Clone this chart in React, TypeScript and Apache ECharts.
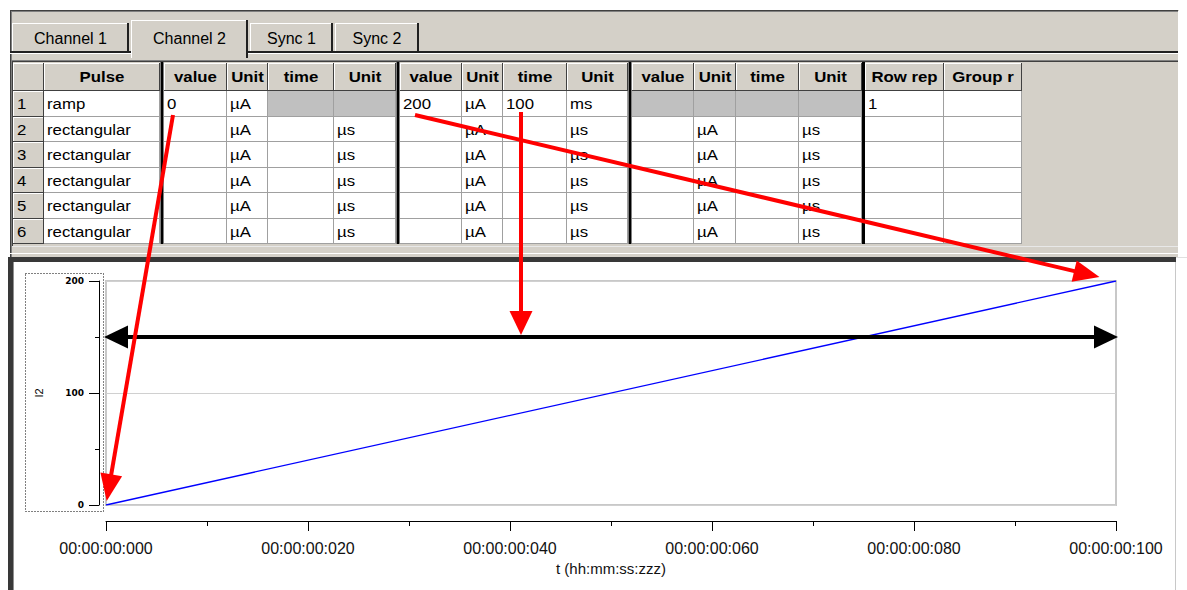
import React, { useEffect, useRef } from 'react';
import * as echarts from 'echarts';

// ---------- data ----------
const tabLabels = ['Channel 1', 'Channel 2', 'Sync 1', 'Sync 2'];
const activeTab = 1;
const columnHeaders = ['', 'Pulse', 'value', 'Unit', 'time', 'Unit', 'value', 'Unit', 'time', 'Unit', 'value', 'Unit', 'time', 'Unit', 'Row rep', 'Group r'];
const rowNumbers = ['1', '2', '3', '4', '5', '6'];
const pulseTypes = ['ramp', 'rectangular', 'rectangular', 'rectangular', 'rectangular', 'rectangular'];
// null = disabled (grey) cell
const rampRowCells: (string | null)[] = ['0', 'µA', null, null, '200', 'µA', '100', 'ms', null, null, null, null, '1', ''];
const rectangularRowCells: (string | null)[] = ['', 'µA', '', 'µs', '', 'µA', '', 'µs', '', 'µA', '', 'µs', '', ''];

const rampTimes = [0, 100]; // ms
const rampCurrents = [0, 200]; // µA
const spanArrowLevel = 150;
const timeTicks = [0, 20, 40, 60, 80, 100];
const timeTickLabels = ['00:00:00:000', '00:00:00:020', '00:00:00:040', '00:00:00:060', '00:00:00:080', '00:00:00:100'];
const currentTickLabels = ['0', '100', '200'];

// ---------- layout ----------
const colWidths = [31, 116, 63, 41, 66, 62, 62, 41, 64, 61, 62, 42, 63, 63, 79, 78];
const sepAfter: Record<number, number> = { 1: 4, 5: 4, 9: 4, 13: 3 };
const tableX = 13;
const headerTop = 63;
const headerBottom = 91;
const rowH = 25.5;
const tabSpans = [[12, 129], [131, 248], [250, 333], [335, 419]];

const GRAY = '#d4d0c8';
const CELL_FONT = '15px "Liberation Sans", Arial, sans-serif';
const TAB_FONT = '16px "Liberation Sans", Arial, sans-serif';
const HEAD_FONT = 'bold 15px "Liberation Sans", Arial, sans-serif';

const option: any = {
  animation: false,
  grid: { left: 106, right: 71, top: 281, bottom: 85, show: true, borderColor: '#c8c8c8', borderWidth: 2, backgroundColor: '#ffffff' },
  xAxis: {
    type: 'value', min: 0, max: 100, interval: 20, offset: 16,
    axisLine: { show: true, onZero: false, lineStyle: { color: '#000', width: 1 } },
    axisTick: { show: true, length: 10, lineStyle: { color: '#000' } },
    minorTick: { show: true, splitNumber: 2, length: 5, lineStyle: { color: '#000' } },
    splitLine: { show: false },
    axisLabel: {
      margin: 19, color: '#111', fontSize: 16, fontFamily: '"Liberation Sans", Arial, sans-serif',
      formatter: (v: number) => timeTickLabels[timeTicks.indexOf(v)] ?? '',
    },
    name: 't (hh:mm:ss:zzz)', nameLocation: 'middle', nameGap: 40,
    nameTextStyle: { color: '#111', fontSize: 15, fontFamily: '"Liberation Sans", Arial, sans-serif' },
  },
  yAxis: {
    type: 'value', min: 0, max: 200, interval: 100, offset: 7,
    axisLine: { show: true, onZero: false, lineStyle: { color: '#000', width: 1 } },
    axisTick: { show: true, length: 10, lineStyle: { color: '#000' } },
    minorTick: { show: true, splitNumber: 2, length: 4, lineStyle: { color: '#000' } },
    splitLine: { show: true, lineStyle: { color: '#d0d0d0', width: 1 } },
    axisLabel: {
      margin: 15, color: '#000', fontSize: 9, fontWeight: 'bold', fontFamily: '"DejaVu Sans", sans-serif',
      formatter: (v: number) => currentTickLabels[v / 100] ?? '',
    },
    name: 'I2', nameLocation: 'middle', nameGap: 55,
    nameTextStyle: { color: '#000', fontSize: 11, fontFamily: '"Liberation Sans", Arial, sans-serif' },
  },
  series: [{
    type: 'line', data: rampTimes.map((t, i) => [t, rampCurrents[i]]),
    symbol: 'none', showSymbol: false, silent: true, z: 3,
    lineStyle: { color: '#0000ff', width: 1.3 },
  }],
};

function buildGraphics(px: (v: number[]) => number[]) {
  const els: any[] = [];
  const ZB = -10;
  const rect = (x: number, y: number, w: number, h: number, fill: string, z = ZB, extra: any = {}) =>
    els.push({ type: 'rect', silent: true, z, shape: { x, y, width: w, height: h }, style: { fill, ...extra } });
  const line = (x1: number, y1: number, x2: number, y2: number, stroke: string, lw = 1, z = ZB) =>
    els.push({ type: 'line', silent: true, z, shape: { x1, y1, x2, y2 }, style: { stroke, lineWidth: lw } });
  const text = (x: number, y: number, str: string, font: string, align = 'left', sx = 1, z = ZB + 2) =>
    els.push({
      type: 'text', silent: true, z, x, y, scaleX: sx,
      style: { text: str, font, fill: '#000', textAlign: align, textVerticalAlign: 'middle', align, verticalAlign: 'middle' },
    });

  // window background + frame
  rect(10, 10, 1169, 248, GRAY);
  line(10, 10.5, 1178, 10.5, '#404040');
  line(10, 11.5, 1178, 11.5, '#808080');
  line(10.5, 10, 10.5, 258, '#404040');
  line(11.5, 11, 11.5, 258, '#808080');
  line(1178.5, 11, 1178.5, 258, '#ffffff');

  // tab strip bottom line
  const act = tabSpans[activeTab];
  line(10, 52, act[0], 52, '#202020', 2, ZB + 1);
  line(act[1], 52, 1178, 52, '#202020', 2, ZB + 1);
  line(10, 53.5, act[0], 53.5, '#ffffff', 1, ZB + 1);
  line(act[1], 53.5, 1178, 53.5, '#ffffff', 1, ZB + 1);

  tabSpans.forEach(([x0, x1], i) => {
    const active = i === activeTab;
    const top = active ? 20 : 23;
    const bottom = active ? 58 : 51;
    rect(x0, top, x1 - x0, bottom - top, GRAY, ZB + 2);
    line(x0, top + 0.5, x1 - 2, top + 0.5, '#ffffff', 1, ZB + 3);
    line(x0 + 0.5, top, x0 + 0.5, bottom, '#ffffff', 1, ZB + 3);
    line(x1 - 1, top, x1 - 1, bottom, '#202020', 2, ZB + 3);
    text((x0 + x1) / 2, 38, tabLabels[i], TAB_FONT, 'center', 1.0, ZB + 4);
  });

  // table frame
  line(12, 60.5, 1178, 60.5, '#808080');
  line(12, 61.5, 1178, 61.5, '#404040');
  line(12.5, 61, 12.5, 246, '#404040');

  // column positions
  const colX0: number[] = [];
  const seps: [number, number][] = [];
  let x = tableX;
  colWidths.forEach((w, i) => {
    colX0.push(x);
    x += w;
    if (sepAfter[i]) { seps.push([x, sepAfter[i]]); x += sepAfter[i]; }
  });
  const rowTops = rowNumbers.map((_, r) => Math.round(headerBottom + r * rowH));
  const tableBottom = Math.round(headerBottom + rowNumbers.length * rowH);

  // header row
  colWidths.forEach((w, i) => {
    const x0 = colX0[i];
    rect(x0, headerTop, w, headerBottom - headerTop, GRAY, ZB + 2);
    line(x0, headerTop + 0.5, x0 + w, headerTop + 0.5, '#ffffff', 1, ZB + 3);
    line(x0 + 0.5, headerTop, x0 + 0.5, headerBottom, '#ffffff', 1, ZB + 3);
    line(x0 + w - 0.5, headerTop, x0 + w - 0.5, headerBottom, '#404040', 1, ZB + 3);
    line(x0, headerBottom - 0.5, x0 + w, headerBottom - 0.5, '#404040', 1, ZB + 3);
    if (columnHeaders[i]) text(x0 + w / 2, (headerTop + headerBottom) / 2, columnHeaders[i], HEAD_FONT, 'center', 1.12, ZB + 4);
  });

  // data rows
  rowNumbers.forEach((num, r) => {
    const y0 = rowTops[r];
    const y1 = r + 1 < rowTops.length ? rowTops[r + 1] : tableBottom;
    const cells = [num, pulseTypes[r], ...(r === 0 ? rampRowCells : rectangularRowCells)];
    colWidths.forEach((w, i) => {
      const x0 = colX0[i];
      const v = cells[i];
      if (i === 0) {
        rect(x0, y0, w, y1 - y0, GRAY, ZB + 2);
        line(x0, y0 + 0.5, x0 + w, y0 + 0.5, '#ffffff', 1, ZB + 3);
        line(x0 + 0.5, y0, x0 + 0.5, y1, '#ffffff', 1, ZB + 3);
        line(x0 + w - 0.5, y0, x0 + w - 0.5, y1, '#404040', 1, ZB + 3);
        line(x0, y1 - 0.5, x0 + w, y1 - 0.5, '#404040', 1, ZB + 3);
      } else {
        rect(x0, y0, w, y1 - y0, v === null ? '#c0c0c0' : '#ffffff', ZB + 2);
        line(x0 + w - 0.5, y0, x0 + w - 0.5, y1, '#a0a0a0', 1, ZB + 3);
        line(x0, y1 - 0.5, x0 + w, y1 - 0.5, '#a0a0a0', 1, ZB + 3);
      }
      if (v) text(x0 + (i === 0 ? 4 : 3), (y0 + y1) / 2, v, CELL_FONT, 'left', 1.12, ZB + 4);
    });
  });
  seps.forEach(([sx, sw]) => {
    rect(sx, headerTop - 1, sw, tableBottom - headerTop + 1, '#ffffff', ZB + 2);
    rect(sx + (sw - 3) / 2, headerTop - 1, 3, tableBottom - headerTop + 1, '#000000', ZB + 3);
  });
  line(12, 246.5, 1178, 246.5, '#e8e8e8');
  line(10, 253.5, 1178, 253.5, '#ffffff');

  // plot panel frame
  rect(8, 257, 1168, 5, '#383838', ZB + 1);
  rect(8, 257, 5, 333, '#383838', ZB + 1);
  line(13.5, 262, 13.5, 590, '#909090', 1, ZB + 1);
  line(1175.5, 262, 1175.5, 590, '#c8c8c8', 1, ZB + 1);
  line(1176, 257.5, 1187, 257.5, '#e0e0e0', 1, ZB + 1);

  // dotted focus box around y axis
  els.push({
    type: 'rect', silent: true, z: 5, shape: { x: 25.5, y: 273.5, width: 78, height: 238 },
    style: { fill: 'none', stroke: '#000000', lineWidth: 1, lineDash: [1, 2] },
  });

  // arrows
  const arrowHead = (tip: number[], dir: number[], L: number, W: number, color: string) => {
    const bx = tip[0] - dir[0] * L, by = tip[1] - dir[1] * L;
    const nx = -dir[1], ny = dir[0];
    els.push({
      type: 'polygon', silent: true, z: 100,
      shape: { points: [[tip[0], tip[1]], [bx + nx * W, by + ny * W], [bx - nx * W, by - ny * W]] },
      style: { fill: color },
    });
  };
  const arrow = (tail: number[], tip: number[], color: string, lw: number, L: number, W: number) => {
    const dx = tip[0] - tail[0], dy = tip[1] - tail[1];
    const len = Math.hypot(dx, dy);
    const dir = [dx / len, dy / len];
    els.push({
      type: 'line', silent: true, z: 99,
      shape: { x1: tail[0], y1: tail[1], x2: tip[0] - dir[0] * L * 0.7, y2: tip[1] - dir[1] * L * 0.7 },
      style: { stroke: color, lineWidth: lw },
    });
    arrowHead(tip, dir, L, W, color);
  };

  const RED = '#ff0000';
  const row1Bottom = rowTops[1];
  // from start value cell to ramp start point
  const pStart = px([rampTimes[0], rampCurrents[0]]);
  const tail1 = [colX0[2] + 9, row1Bottom - 2];
  {
    const dx = pStart[0] - tail1[0], dy = pStart[1] - tail1[1];
    const l = Math.hypot(dx, dy);
    arrow(tail1, [pStart[0] - dx / l * 4, pStart[1] - dy / l * 4], RED, 4, 27, 11);
  }
  // from end value cell to ramp end point
  const pEnd = px([rampTimes[1], rampCurrents[1]]);
  const tail2 = [colX0[6] + 15, row1Bottom - 2];
  {
    const dx = pEnd[0] - tail2[0], dy = pEnd[1] - tail2[1];
    const l = Math.hypot(dx, dy);
    arrow(tail2, [pEnd[0] - dx / l * 17, pEnd[1] - dy / l * 17], RED, 4, 26, 11);
  }
  // from time cell down to the duration arrow
  const pSpanL = px([rampTimes[0], spanArrowLevel]);
  const pSpanR = px([rampTimes[1], spanArrowLevel]);
  const tail3x = colX0[8] + 18;
  arrow([tail3x, row1Bottom - 5], [tail3x, pSpanL[1] - 2], RED, 4, 24, 11.5);

  // black double-headed duration arrow
  const L = 24;
  els.push({
    type: 'line', silent: true, z: 98,
    shape: { x1: pSpanL[0] - 2 + L * 0.7, y1: pSpanL[1], x2: pSpanR[0] + 2 - L * 0.7, y2: pSpanR[1] },
    style: { stroke: '#000000', lineWidth: 4 },
  });
  arrowHead([pSpanL[0] - 2, pSpanL[1]], [-1, 0], L, 11.5, '#000000');
  arrowHead([pSpanR[0] + 2, pSpanR[1]], [1, 0], L, 11.5, '#000000');

  return els;
}

export default function App() {
  const ref = useRef<HTMLDivElement>(null);
  useEffect(() => {
    const el = ref.current;
    if (!el) return;
    const chart = echarts.init(el, null, { renderer: 'svg' });
    chart.setOption(option);
    const px = (v: number[]) => chart.convertToPixel({ gridIndex: 0 }, v) as number[];
    chart.setOption({ graphic: buildGraphics(px) });
    return () => chart.dispose();
  }, []);
  return (
    <div
      ref={ref}
      style={{ position: 'absolute', left: 0, top: 0, width: 1187, height: 590, background: '#ffffff' }}
    />
  );
}
